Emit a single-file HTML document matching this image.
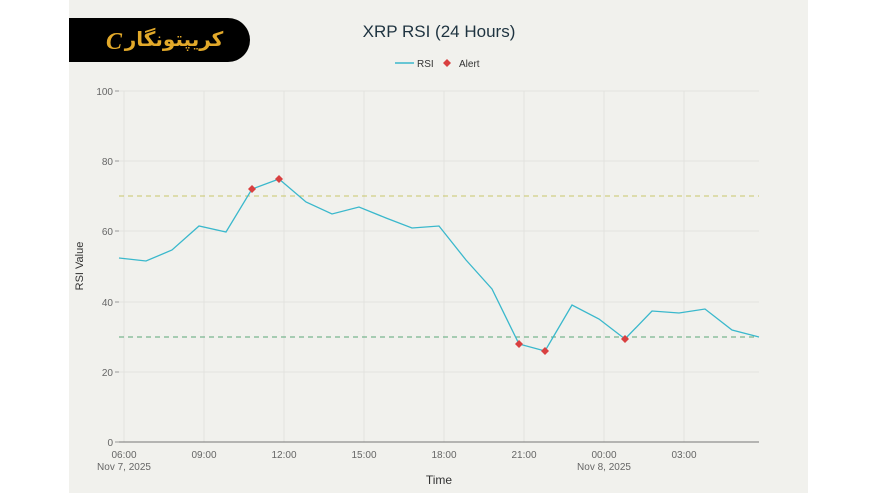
<!DOCTYPE html>
<html><head><meta charset="utf-8"><style>
html,body{margin:0;padding:0;width:877px;height:493px;background:#fff;overflow:hidden}
svg{display:block;font-family:"Liberation Sans",sans-serif}
</style></head><body>
<svg width="877" height="493" xmlns="http://www.w3.org/2000/svg">
<rect x="69" y="0" width="739" height="493" fill="#f1f1ed"/>
<path d="M69,18 H228 A22,22 0 0 1 228,62 H69 Z" fill="#000"/>
<text x="174" y="46" font-size="20" font-weight="bold" fill="#e2a92a" text-anchor="middle" font-family="'DejaVu Sans',sans-serif">كريپتونگار</text>
<text x="106" y="49" font-size="24" font-style="italic" font-weight="bold" fill="#e2a92a" font-family="'Liberation Serif',serif">C</text>
<text x="439" y="37" font-size="17" fill="#1e3340" text-anchor="middle">XRP RSI (24 Hours)</text>
<line x1="395" y1="63" x2="414" y2="63" stroke="#3ab8cc" stroke-width="1.5"/>
<text x="417" y="67" font-size="10" fill="#333">RSI</text>
<path d="M447,59 L451,63 L447,67 L443,63Z" fill="#d94040"/>
<text x="459" y="67" font-size="10" fill="#333">Alert</text>
<g stroke="#e2e2de" stroke-width="1">
<line x1="119" y1="91" x2="759" y2="91"/><line x1="119" y1="161" x2="759" y2="161"/><line x1="119" y1="231" x2="759" y2="231"/><line x1="119" y1="302" x2="759" y2="302"/><line x1="119" y1="372" x2="759" y2="372"/>
<line x1="124" y1="91" x2="124" y2="442"/><line x1="204" y1="91" x2="204" y2="442"/><line x1="284" y1="91" x2="284" y2="442"/><line x1="364" y1="91" x2="364" y2="442"/><line x1="444" y1="91" x2="444" y2="442"/><line x1="524" y1="91" x2="524" y2="442"/><line x1="604" y1="91" x2="604" y2="442"/><line x1="684" y1="91" x2="684" y2="442"/>
</g>
<g stroke="#999" stroke-width="1">
<line x1="115" y1="91" x2="119" y2="91"/><line x1="115" y1="161" x2="119" y2="161"/><line x1="115" y1="231" x2="119" y2="231"/><line x1="115" y1="302" x2="119" y2="302"/><line x1="115" y1="372" x2="119" y2="372"/><line x1="115" y1="442" x2="119" y2="442"/>
</g>
<line x1="119" y1="442" x2="759" y2="442" stroke="#777" stroke-width="1"/>
<line x1="119" y1="196" x2="759" y2="196" stroke="#c9c76a" stroke-dasharray="5,4" stroke-width="1"/>
<line x1="119" y1="337" x2="759" y2="337" stroke="#5aa878" stroke-dasharray="5,4" stroke-width="1"/>
<g font-size="10" fill="#666" text-anchor="end">
<text x="113" y="95">100</text><text x="113" y="165">80</text><text x="113" y="235">60</text><text x="113" y="306">40</text><text x="113" y="376">20</text><text x="113" y="446">0</text>
</g>
<g font-size="10" fill="#666" text-anchor="middle">
<text x="124" y="458">06:00</text><text x="124" y="470">Nov 7, 2025</text>
<text x="204" y="458">09:00</text><text x="284" y="458">12:00</text><text x="364" y="458">15:00</text><text x="444" y="458">18:00</text><text x="524" y="458">21:00</text><text x="604" y="458">00:00</text><text x="604" y="470">Nov 8, 2025</text><text x="684" y="458">03:00</text>
</g>
<text x="439" y="484" font-size="12" fill="#333" text-anchor="middle">Time</text>
<text transform="translate(83,266) rotate(-90)" font-size="11" fill="#333" text-anchor="middle">RSI Value</text>
<polyline fill="none" stroke="#3ab8cc" stroke-width="1.3" points="119,258 146,261 172,250 199,226 226,232 252,189 279,179 306,202 332,214 359,207 386,218 412,228 439,226 466,260 492,289 519,344 545,351 572,305 599,319 625,339 652,311 679,313 705,309 732,330 759,337"/>
<g fill="#d94040">
<path d="M252,185 L256,189 L252,193 L248,189Z"/>
<path d="M279,175 L283,179 L279,183 L275,179Z"/>
<path d="M519,340 L523,344 L519,348 L515,344Z"/>
<path d="M545,347 L549,351 L545,355 L541,351Z"/>
<path d="M625,335 L629,339 L625,343 L621,339Z"/>
</g>
</svg>
</body></html>
